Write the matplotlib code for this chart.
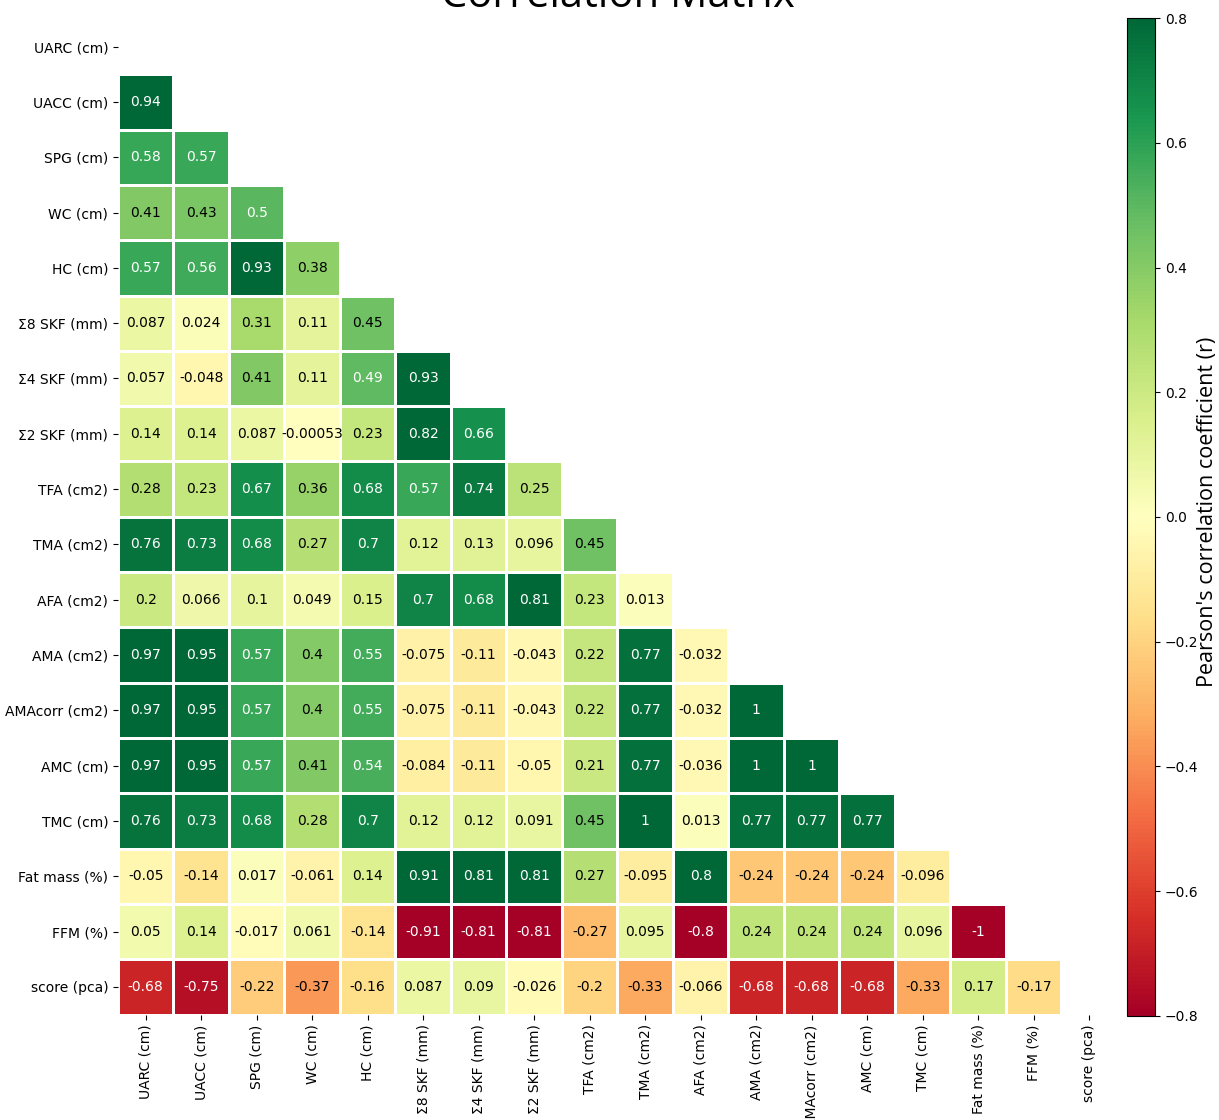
import numpy as np
import matplotlib
matplotlib.use("Agg")
import matplotlib.pyplot as plt
from matplotlib.colors import to_rgba_array

labels = ["UARC (cm)", "UACC (cm)", "SPG (cm)", "WC (cm)", "HC (cm)",
          "Σ8 SKF (mm)", "Σ4 SKF (mm)", "Σ2 SKF (mm)", "TFA (cm2)", "TMA (cm2)",
          "AFA (cm2)", "AMA (cm2)", "AMAcorr (cm2)", "AMC (cm)", "TMC (cm)",
          "Fat mass (%)", "FFM (%)", "score (pca)"]

# Lower-triangle Pearson coefficients, one list per row (columns before the diagonal)
r_uacc = [0.94]
r_spg = [0.58, 0.57]
r_wc = [0.41, 0.43, 0.5]
r_hc = [0.57, 0.56, 0.93, 0.38]
r_skf8 = [0.087, 0.024, 0.31, 0.11, 0.45]
r_skf4 = [0.057, -0.048, 0.41, 0.11, 0.49, 0.93]
r_skf2 = [0.14, 0.14, 0.087, -0.00053, 0.23, 0.82, 0.66]
r_tfa = [0.28, 0.23, 0.67, 0.36, 0.68, 0.57, 0.74, 0.25]
r_tma = [0.76, 0.73, 0.68, 0.27, 0.7, 0.12, 0.13, 0.096, 0.45]
r_afa = [0.2, 0.066, 0.1, 0.049, 0.15, 0.7, 0.68, 0.81, 0.23, 0.013]
r_ama = [0.97, 0.95, 0.57, 0.4, 0.55, -0.075, -0.11, -0.043, 0.22, 0.77, -0.032]
r_amacorr = [0.97, 0.95, 0.57, 0.4, 0.55, -0.075, -0.11, -0.043, 0.22, 0.77, -0.032, 1]
r_amc = [0.97, 0.95, 0.57, 0.41, 0.54, -0.084, -0.11, -0.05, 0.21, 0.77, -0.036, 1, 1]
r_tmc = [0.76, 0.73, 0.68, 0.28, 0.7, 0.12, 0.12, 0.091, 0.45, 1, 0.013, 0.77, 0.77, 0.77]
r_fat = [-0.05, -0.14, 0.017, -0.061, 0.14, 0.91, 0.81, 0.81, 0.27, -0.095, 0.8,
         -0.24, -0.24, -0.24, -0.096]
r_ffm = [0.05, 0.14, -0.017, 0.061, -0.14, -0.91, -0.81, -0.81, -0.27, 0.095, -0.8,
         0.24, 0.24, 0.24, 0.096, -1]
r_score = [-0.68, -0.75, -0.22, -0.37, -0.16, 0.087, 0.09, -0.026, -0.2, -0.33, -0.066,
           -0.68, -0.68, -0.68, -0.33, 0.17, -0.17]

rows = [[], r_uacc, r_spg, r_wc, r_hc, r_skf8, r_skf4, r_skf2, r_tfa, r_tma, r_afa,
        r_ama, r_amacorr, r_amc, r_tmc, r_fat, r_ffm, r_score]

n = len(labels)
corr = np.eye(n)
for i, vals in enumerate(rows):
    for j, v in enumerate(vals):
        corr[i, j] = v
        corr[j, i] = v
mask = np.triu(np.ones((n, n), dtype=bool))
data = np.ma.masked_array(corr, mask=mask)

cmap = plt.get_cmap("RdYlGn")
vmin, vmax = -0.8, 0.8

fig = plt.figure(figsize=(12.19, 11.2), dpi=100)
ax = fig.add_axes([0.0968, 0.0941, 0.8195, 0.889])
cax = fig.add_axes([0.9245, 0.0929, 0.023, 0.891])

mesh = ax.pcolormesh(np.arange(n + 1), np.arange(n + 1), data, cmap=cmap,
                     vmin=vmin, vmax=vmax, edgecolors="white", linewidth=1.0)
ax.set_xlim(0, n)
ax.set_ylim(n, 0)
for s in ax.spines.values():
    s.set_visible(False)


def luminance(c):
    rgb = to_rgba_array(c)[:, :3]
    rgb = np.where(rgb <= 0.03928, rgb / 12.92, ((rgb + 0.055) / 1.055) ** 2.4)
    return rgb.dot([0.2126, 0.7152, 0.0722])[0]


norm = plt.Normalize(vmin, vmax)
for i in range(n):
    for j in range(n):
        if mask[i, j]:
            continue
        v = corr[i, j]
        col = cmap(norm(v))
        tc = "#000" if luminance(col) > 0.408 else "#fff"
        ax.text(j + 0.5, i + 0.5, format(v, ".2g"), ha="center", va="center",
                color=tc, fontsize=10)

ax.set_xticks(np.arange(n) + 0.5)
ax.set_yticks(np.arange(n) + 0.5)
ax.set_xticklabels(labels, rotation=90, fontsize=10)
ax.set_yticklabels(labels, fontsize=10)

cb = fig.colorbar(mesh, cax=cax)
cb.ax.tick_params(labelsize=10)

fig.text(1208 / 1219, 1 - 512 / 1120, "Pearson's correlation coefficient (r)",
         family="Open Sans", fontsize=15.5, rotation=90, ha="center", va="center")

fig.text(0.507, 1 - 7 / 1120, "Correlation Matrix", family="Open Sans", fontsize=30,
         ha="center", va="baseline")

fig.savefig("out.png", dpi=100)
